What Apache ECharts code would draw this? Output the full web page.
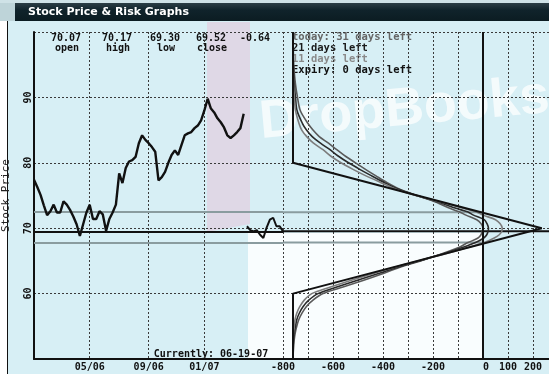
<!DOCTYPE html>
<html><head><meta charset="utf-8">
<script src="https://cdn.jsdelivr.net/npm/echarts@6/dist/echarts.min.js"></script>
<style>html,body{margin:0;padding:0;background:#fff}#c{width:549px;height:374px}</style>
</head><body><div id="c"></div>
<script>
// ---- price history (weekly) ----
const weekDates = ['2006-01-02','2006-01-09','2006-01-16','2006-01-23','2006-01-30','2006-02-06','2006-02-13','2006-02-20','2006-02-27','2006-03-06','2006-03-13','2006-03-20','2006-03-27','2006-04-03','2006-04-10','2006-04-17','2006-04-24','2006-05-01','2006-05-08','2006-05-15','2006-05-22','2006-05-29','2006-06-05','2006-06-12','2006-06-19','2006-06-26','2006-07-03','2006-07-10','2006-07-17','2006-07-24','2006-07-31','2006-08-07','2006-08-14','2006-08-21','2006-08-28','2006-09-04','2006-09-11','2006-09-18','2006-09-25','2006-10-02','2006-10-09','2006-10-16','2006-10-23','2006-10-30','2006-11-06','2006-11-13','2006-11-20','2006-11-27','2006-12-04','2006-12-11','2006-12-18','2006-12-25','2007-01-01','2007-01-08','2007-01-15','2007-01-22','2007-01-29','2007-02-05','2007-02-12','2007-02-19','2007-02-26','2007-03-05','2007-03-12','2007-03-19','2007-03-26','2007-04-02','2007-04-09','2007-04-16','2007-04-23','2007-04-30','2007-05-07','2007-05-14','2007-05-21','2007-05-28','2007-06-04','2007-06-11','2007-06-18'];
const pricesBeforeGap = [77.4,76.3,75.1,73.5,72.0,72.6,73.6,72.4,72.4,74.1,73.6,72.8,71.8,70.6,68.8,70.6,72.4,73.6,71.4,71.4,72.6,72.1,69.6,71.4,72.4,73.6,78.4,76.9,79.2,80.2,80.4,80.9,83.0,84.2,83.5,83.0,82.4,81.7,77.3,77.8,78.6,80.0,81.2,81.9,81.2,82.7,84.2,84.5,84.7,85.3,85.7,86.5,88.0,89.8,88.3,87.7,86.8,86.2,85.4,84.2,83.8,84.2,84.7,85.3,87.5];
const pricesAfterGap = [70.3,69.7,69.5,69.7,69.0,68.5,70.1,71.3,71.6,70.3,70.3,69.52];
const dateTickDates = ['2006-05-01','2006-09-04','2007-01-01'];
const dateTickText = ['05/06','09/06','01/07'];

// ---- reference levels ----
const currentClose = 69.52;
const rangeUpper = 72.44;
const rangeLower = 67.8;

// ---- risk graph (P&L vs stock price) ----
const riskPrices = [100,95,92,90,88,86,85,84,83,82,81,80,79,78,77,76,75,74,73,72.5,72,71.3,70.7,70,69.5,69,68.5,67.8,67,66,65,64,63,62,61,60,59,58,57,56,55,54,53,51,50];
const pnlToday  = [-760,-757,-750,-742,-731,-700,-680,-655,-618,-585,-550,-510,-470,-428,-385,-335,-265,-190,-130,-95,-68,-25,-8,0,-3,-8,-20,-60,-100,-170,-250,-335,-405,-480,-560,-640,-680,-707,-724,-737,-745,-751,-755,-759,-760];
const pnl21     = [-760,-759,-755,-750,-744,-722,-706,-683,-650,-612,-578,-538,-493,-445,-395,-340,-265,-180,-105,-62,-38,5,16,22,20,15,3,-30,-85,-165,-255,-345,-425,-505,-585,-660,-697,-720,-735,-745,-750,-755,-758,-760,-760];
const pnl11     = [-760,-760,-758,-755,-750,-736,-725,-705,-678,-640,-608,-568,-520,-468,-410,-350,-268,-170,-75,-28,0,50,68,77,75,65,45,5,-65,-160,-262,-358,-445,-530,-610,-685,-715,-733,-745,-752,-755,-758,-760,-760,-760];
const expiryPrices = [100,80,70,60,50];
const expiryPnl = [-760,-760,235,-760,-760];
const riskTickLabels = [-800,-600,-400,-200,0,100,200];

const statValues = ['70.07','70.17','69.30','69.52','-0.64'];
const statNames = ['open','high','low','close',''];
const legendLines = ['today: 31 days left','21 days left','11 days left','Expiry: 0 days left'];
const legendColors = ['#666666','#1a1a1a','#8a8a8a','#111111'];
const seriesColors = {today:'#5a5a5a', d21:'#2a2a2a', d11:'#7c7c7c', expiry:'#111111'};

const mono = '"DejaVu Sans Mono", monospace';
const dotted = {color:'#3a3a3a', width:1, type:[2,2]};
const pair = (xs, ys) => xs.map((x, i) => [x, ys[i]]);
const n = weekDates.length;
const seriesA = pricesBeforeGap.concat(new Array(n - pricesBeforeGap.length).fill(null));
const seriesB = new Array(n - pricesAfterGap.length).fill(null).concat(pricesAfterGap);

const statCols = [66,117,165,211,255];
const graphic = [
  {type:'rect', shape:{x:0,y:0,width:7,height:374}, style:{fill:'#ffffff'}, z:-10},
  // faint background watermark areas
  {type:'polygon', shape:{points:[[207,22],[250,22],[250,224],[207,232]]}, style:{fill:'rgba(240,170,200,0.33)'}, z:-20},
  {type:'polygon', shape:{points:[[248,233],[482,233],[482,359],[248,359]]}, style:{fill:'rgba(255,255,255,0.85)'}, z:-20},
  {type:'text', x:262, y:150, rotation:0.09, style:{text:'DropBooks', fill:'rgba(255,255,255,0.72)', font:'bold 54px "Liberation Sans", sans-serif', verticalAlign:'bottom'}, z:-15},
  {type:'line', shape:{x1:7.5,y1:21,x2:7.5,y2:374}, style:{stroke:'#111',lineWidth:1}},
  {type:'rect', shape:{x:0,y:0,width:549,height:3}, style:{fill:'#cfe2e7'}},
  {type:'rect', shape:{x:0,y:3,width:15,height:18}, style:{fill:'#bed4d9'}},
  {type:'rect', shape:{x:15,y:3,width:534,height:18}, style:{fill:new echarts.graphic.LinearGradient(0,0,0,1,[{offset:0,color:'#2c3e46'},{offset:0.4,color:'#10232b'},{offset:1,color:'#0b1c22'}])}},
  {type:'text', x:28, y:12.5, style:{text:'Stock Price & Risk Graphs', fill:'#ffffff', font:'bold 11px "DejaVu Sans", sans-serif', verticalAlign:'middle'}},
  {type:'text', x:211, y:354, style:{text:'Currently: 06-19-07', fill:'#111', font:'bold 10px '+mono, align:'center', verticalAlign:'middle'}}
];
statValues.forEach((v,i)=>{
  graphic.push({type:'text', x:statCols[i], y:38, style:{text:v, fill:'#111', font:'bold 10px '+mono, align:'center', verticalAlign:'middle'}});
  if (statNames[i]) graphic.push({type:'text', x:statCols[i]+1, y:48, style:{text:statNames[i], fill:'#111', font:'bold 10px '+mono, align:'center', verticalAlign:'middle'}});
});
legendLines.forEach((t,i)=>{
  graphic.push({type:'text', x:292, y:37+i*11, style:{text:t, fill:legendColors[i], font:'bold 10.5px '+mono, verticalAlign:'middle'}});
});

const hLine = {symbol:['none','none'], silent:true, label:{show:false}};
const option = {
  backgroundColor:'#d7eff5',
  animation:false,
  grid:[{left:33, top:32, width:250, height:327},{left:283, top:32, right:0, height:327}],
  xAxis:[
    {type:'category', gridIndex:0, data:weekDates, boundaryGap:false,
     axisLine:{lineStyle:{color:'#111', width:2}}, axisTick:{show:false},
     axisLabel:{interval:(i,v)=>dateTickDates.includes(v), formatter:v=>dateTickText[dateTickDates.indexOf(v)] || '', fontFamily:mono, fontWeight:'bold', fontSize:10, color:'#111', margin:3},
     splitLine:{show:true, interval:(i,v)=>dateTickDates.includes(v), lineStyle:dotted}},
    {type:'value', gridIndex:1, min:-800, max:264, interval:100,
     axisLine:{lineStyle:{color:'#111', width:2}}, axisTick:{show:false},
     axisLabel:{formatter:v=>riskTickLabels.includes(v) ? (v===0 ? ' 0' : String(v)) : '', fontFamily:mono, fontWeight:'bold', fontSize:10, color:'#111', margin:3, showMaxLabel:false},
     splitLine:{show:true, lineStyle:dotted}}
  ],
  yAxis:[
    {type:'value', gridIndex:0, min:50, max:100, interval:10,
     name:'Stock Price', nameLocation:'middle', nameGap:16, nameRotate:90,
     nameTextStyle:{fontFamily:mono, fontSize:11, color:'#222', padding:[0,0,6,0]},
     axisLine:{show:true, lineStyle:{color:'#111', width:2}}, axisTick:{show:false},
     axisLabel:{rotate:90, showMinLabel:false, showMaxLabel:false, fontFamily:mono, fontWeight:'bold', fontSize:10, color:'#111', margin:1},
     splitLine:{show:true, lineStyle:dotted}},
    {type:'value', gridIndex:1, min:50, max:100, interval:10,
     axisLine:{show:false}, axisTick:{show:false}, axisLabel:{show:false},
     splitLine:{show:true, lineStyle:dotted}}
  ],
  series:[
    {type:'line', name:'price', xAxisIndex:0, yAxisIndex:0, data:seriesA, showSymbol:false, connectNulls:false,
     lineStyle:{color:'#111', width:2.4}, z:5,
     markLine:Object.assign({data:[
       {yAxis:rangeUpper, lineStyle:{color:'#8a9c9f', width:2, type:'solid'}},
       {yAxis:rangeLower, lineStyle:{color:'#8a9c9f', width:2, type:'solid'}},
       {yAxis:currentClose, lineStyle:{color:'#111', width:2, type:'solid'}}
     ]}, hLine)},
    {type:'line', name:'price2', xAxisIndex:0, yAxisIndex:0, data:seriesB, showSymbol:false, connectNulls:false,
     lineStyle:{color:'#111', width:2}, z:5},
    {type:'line', xAxisIndex:1, yAxisIndex:1, data:[[-800,rangeUpper],[0,rangeUpper]], showSymbol:false, lineStyle:{color:'#8a9c9f', width:2}, z:2},
    {type:'line', xAxisIndex:1, yAxisIndex:1, data:[[-800,rangeLower],[0,rangeLower]], showSymbol:false, lineStyle:{color:'#8a9c9f', width:2}, z:2},
    {type:'line', xAxisIndex:1, yAxisIndex:1, data:[[-800,currentClose],[264,currentClose]], showSymbol:false, lineStyle:{color:'#111', width:2}, z:2},
    {type:'line', name:'today', xAxisIndex:1, yAxisIndex:1, data:pair(pnlToday, riskPrices), showSymbol:false, smooth:0.3, lineStyle:{color:seriesColors.today, width:1.6}, z:3},
    {type:'line', name:'21d', xAxisIndex:1, yAxisIndex:1, data:pair(pnl21, riskPrices), showSymbol:false, smooth:0.3, lineStyle:{color:seriesColors.d21, width:1.6}, z:3},
    {type:'line', name:'11d', xAxisIndex:1, yAxisIndex:1, data:pair(pnl11, riskPrices), showSymbol:false, smooth:0.3, lineStyle:{color:seriesColors.d11, width:1.6}, z:3},
    {type:'line', name:'expiry', xAxisIndex:1, yAxisIndex:1, data:pair(expiryPnl, expiryPrices), showSymbol:false, lineStyle:{color:seriesColors.expiry, width:2}, z:4,
     markLine:Object.assign({data:[{xAxis:0, lineStyle:{color:'#111', width:2, type:'solid'}}]}, hLine)}
  ],
  graphic:graphic
};
const chart = echarts.init(document.getElementById('c'));
chart.setOption(option);
</script>
</body></html>
